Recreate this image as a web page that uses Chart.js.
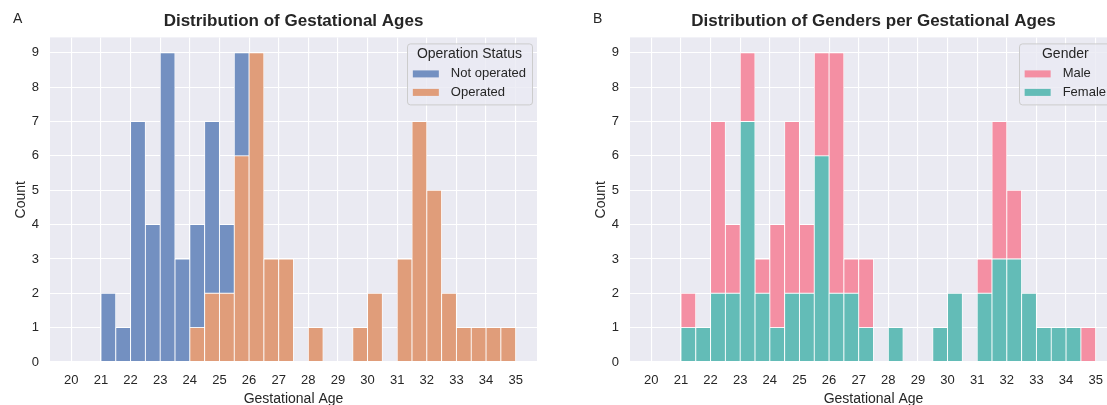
<!DOCTYPE html>
<html>
<head>
<meta charset="utf-8">
<script src="https://cdn.jsdelivr.net/npm/chart.js@4.4.1/dist/chart.umd.min.js"></script>
<style>
  html, body { margin: 0; padding: 0; background: #fff; overflow: hidden; width: 1107px; height: 405px; }
  .panel { position: absolute; top: 0; height: 405px; }
  .tag { position: absolute; top: 10px; font: 14px "Liberation Sans", Arial, sans-serif; color: #262626; }
</style>
</head>
<body>
<div class="panel" style="left:0;width:557px"><canvas id="histA" width="557" height="405"></canvas></div>
<div class="panel" style="left:557px;width:580px"><canvas id="histB" width="580" height="405"></canvas></div>
<div class="tag" style="left:13px">A</div>
<div class="tag" style="left:593px">B</div>
<script>
// left edge of each 0.5 week bin
var binStarts = [21, 21.5, 22, 22.5, 23, 23.5, 24, 24.5, 25, 25.5, 26, 26.5, 27, 27.5,
                 28, 28.5, 29, 29.5, 30, 30.5, 31, 31.5, 32, 32.5, 33, 33.5, 34, 34.5];
var binWidth = 0.5;

// panel A - operation status
var notOperated = [2, 1, 7, 4, 9, 3, 3, 5, 2, 3, 0, 0, 0, 0, 0, 0, 0, 0, 0, 0, 0, 0, 0, 0, 0, 0, 0, 0];
var operated    = [0, 0, 0, 0, 0, 0, 1, 2, 2, 6, 9, 3, 3, 0, 1, 0, 0, 1, 2, 0, 3, 7, 5, 2, 1, 1, 1, 1];

// panel B - gender
var male   = [1, 0, 5, 2, 2, 1, 3, 5, 2, 3, 7, 1, 2, 0, 0, 0, 0, 0, 0, 0, 1, 4, 2, 0, 0, 0, 0, 1];
var female = [1, 1, 2, 2, 7, 2, 1, 2, 2, 6, 2, 2, 1, 0, 1, 0, 0, 1, 2, 0, 2, 3, 3, 2, 1, 1, 1, 0];

var xTicks = [20, 21, 22, 23, 24, 25, 26, 27, 28, 29, 30, 31, 32, 33, 34, 35];
var yTicks = [0, 1, 2, 3, 4, 5, 6, 7, 8, 9];

var FONT = '"Liberation Sans", Arial, sans-serif';
var INK = '#262626';

function toPoints(counts) {
  return counts.map(function (c, i) {
    return { x: binStarts[i] + binWidth / 2, y: c === 0 ? null : c };
  });
}

function barSet(label, counts, color) {
  return {
    label: label,
    data: toPoints(counts),
    backgroundColor: color,
    borderColor: '#ffffff',
    borderWidth: 0.8,
    borderSkipped: false,
    barPercentage: 1,
    categoryPercentage: 1
  };
}

// grey axes background like seaborn darkgrid
var panelBg = {
  id: 'panelBg',
  beforeDraw: function (chart) {
    var a = chart.chartArea, ctx = chart.ctx;
    ctx.save();
    ctx.fillStyle = '#eaeaf2';
    ctx.fillRect(a.left, a.top, a.right - a.left, a.bottom - a.top);
    ctx.restore();
  }
};

// framed legend inside the plot, top right
var boxLegend = {
  id: 'boxLegend',
  afterDraw: function (chart, args, opts) {
    var a = chart.chartArea, ctx = chart.ctx;
    var items = chart.data.datasets.slice().reverse();
    ctx.save();
    ctx.font = '13px ' + FONT;
    var w = 0;
    items.forEach(function (d) { w = Math.max(w, ctx.measureText(d.label).width); });
    var boxW = 44 + w + 6, boxH = 61;
    var right = a.right - 5, left = right - boxW, top = a.top + 6;
    ctx.fillStyle = 'rgba(234,234,242,0.8)';
    ctx.strokeStyle = '#cccccc';
    ctx.lineWidth = 1;
    ctx.beginPath();
    ctx.roundRect(Math.round(left) + 0.5, top + 0.5, Math.round(boxW), boxH, 3);
    ctx.fill();
    ctx.stroke();
    ctx.textBaseline = 'middle';
    ctx.textAlign = 'center';
    ctx.fillStyle = INK;
    ctx.font = '14px ' + FONT;
    ctx.fillText(opts.title, left + boxW / 2, top + 11);
    ctx.textAlign = 'left';
    ctx.font = '13px ' + FONT;
    items.forEach(function (d, i) {
      var y = top + 30.5 + i * 18.5;
      ctx.fillStyle = d.backgroundColor;
      ctx.fillRect(left + 6, y - 3.5, 26, 7);
      ctx.fillStyle = INK;
      ctx.fillText(d.label, left + 44, y);
    });
    ctx.restore();
  }
};

function makeHist(id, title, datasets, legendTitle, padLeft) {
  return new Chart(document.getElementById(id), {
    type: 'bar',
    data: { datasets: datasets },
    options: {
      responsive: false,
      animation: false,
      layout: { padding: { left: padLeft, right: 20, top: 0, bottom: -3 } },
      plugins: {
        legend: { display: false },
        tooltip: { enabled: false },
        title: {
          display: true, text: title, fullSize: false, color: INK,
          font: { family: FONT, size: 17, weight: 'bold' },
          padding: { top: 11, bottom: 6 }
        },
        boxLegend: { title: legendTitle }
      },
      scales: {
        x: {
          type: 'linear', stacked: true, min: 19.28, max: 35.72, offset: false,
          grid: { color: '#ffffff', lineWidth: 1.1, drawTicks: false, offset: false },
          border: { display: false },
          afterBuildTicks: function (s) { s.ticks = xTicks.map(function (v) { return { value: v }; }); },
          ticks: { color: INK, font: { family: FONT, size: 13 }, padding: 11, maxRotation: 0, autoSkip: false },
          title: { display: true, text: 'Gestational Age', color: INK, font: { family: FONT, size: 14 }, padding: 0 },
          afterFit: function (s) { s.height = 46; }
        },
        y: {
          stacked: true, min: 0, max: 9.45,
          grid: { color: '#ffffff', lineWidth: 1.1, drawTicks: false },
          border: { display: false },
          afterBuildTicks: function (s) { s.ticks = yTicks.map(function (v) { return { value: v }; }); },
          ticks: { color: INK, font: { family: FONT, size: 13 }, padding: 11 },
          title: { display: true, text: 'Count', color: INK, font: { family: FONT, size: 14 }, padding: { top: 13, bottom: 0 } },
          afterFit: function (s) { s.width = 50; }
        }
      }
    },
    plugins: [panelBg, boxLegend]
  });
}

makeHist('histA', 'Distribution of Gestational Ages', [
  barSet('Operated', operated, 'rgb(224,157,122)'),
  barSet('Not operated', notOperated, 'rgb(115,144,193)')
], 'Operation Status', 0);

makeHist('histB', 'Distribution of Genders per Gestational Ages', [
  barSet('Female', female, 'rgb(99,188,183)'),
  barSet('Male', male, 'rgb(244,143,163)')
], 'Gender', 23);
</script>
</body>
</html>
